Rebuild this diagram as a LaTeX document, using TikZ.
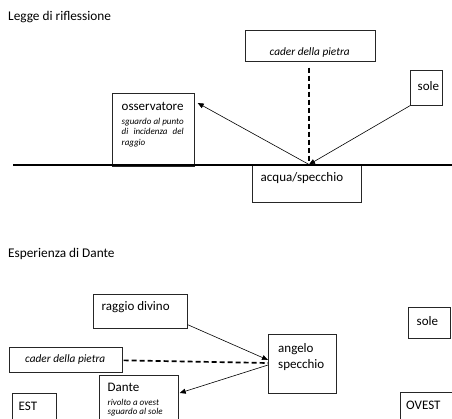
\documentclass[tikz,border=0pt]{standalone}
\usepackage{fontspec}
\setmainfont{Carlito}
\usetikzlibrary{arrows.meta,calc}
\begin{document}
\begin{tikzpicture}[x=1pt,y=-1pt,
  box/.style={draw=black!85,line width=0.7pt,inner sep=0pt,anchor=north west},
  lbl/.style={anchor=base west,inner sep=0pt,font=\fontsize{13}{15}\selectfont},
  ttl/.style={anchor=base west,inner sep=0pt,font=\fontsize{13.3}{15}\selectfont},
  ital/.style={anchor=base west,inner sep=0pt,font=\fontsize{11.3}{13}\selectfont\itshape},
  small/.style={anchor=base west,inner sep=0pt,font=\fontsize{9}{10}\selectfont\itshape},
  arr/.style={line width=0.6pt,-{Triangle[length=6pt,width=5pt]}},
  dsh/.style={line width=1.7pt,dash pattern=on 5pt off 3pt}]
\clip (0,0) rectangle (452,419);
\fill[white] (0,0) rectangle (452,419);
% ---------- top
\node[ttl] (t1) at (8,20.5) {Legge di riflessione};
\node[box,minimum width=130pt,minimum height=31pt] (cad1) at (245,30) {};
\node[ital] (cad1t) at (269.5,55.5) {cader della pietra};
\node[box,minimum width=32pt,minimum height=35pt] (sole1) at (410,70) {};
\node[lbl] (sole1t) at (417.5,90.5) {sole};
\node[box,minimum width=82pt,minimum height=73pt] (obs) at (112,93) {};
\node[lbl] (obst) at (121.5,111) {osservatore};
\node[small] (obs1) at (121.5,124.3) {\makebox[62pt][s]{sguardo al punto}};
\node[small] (obs2) at (121.5,135) {\makebox[62pt][s]{di incidenza del}};
\node[small] (obs3) at (121.5,145.3) {raggio};
\node[box,minimum width=109pt,minimum height=37pt] (acq) at (252,165) {};
\node[lbl] (acqt) at (260.5,182) {acqua/specchio};
\coordinate (P) at (309,164.5);
\coordinate (L1) at (13,165);
\coordinate (L2) at (452,165);
\draw[line width=1.2pt] (L1) -- (L2);
\draw[dsh] ($(cad1.south -| P)+(0,6)$) -- (P);
\draw[arr] (sole1.south west) -- (P);
\draw[arr] (P) -- ($(obs.north east)+(3,10)$);
% ---------- bottom
\node[ttl] (t2) at (8,258) {Esperienza di Dante};
\node[box,minimum width=94pt,minimum height=34pt] (rag) at (93,294) {};
\node[lbl] (ragt) at (101.5,310.5) {raggio divino};
\node[box,minimum width=42pt,minimum height=31pt] (sole2) at (408,307) {};
\node[lbl] (sole2t) at (416.5,325) {sole};
\node[box,minimum width=68pt,minimum height=59pt] (ang) at (268,334) {};
\node[lbl] (angt1) at (278,352) {angelo};
\node[lbl] (angt2) at (278,368) {specchio};
\node[box,minimum width=113pt,minimum height=25pt] (cad2) at (9,347) {};
\node[ital] (cad2t) at (25,362) {cader della pietra};
\node[box,minimum width=79pt,minimum height=60pt] (dan) at (99,375) {};
\node[lbl] (dant) at (107.5,391.5) {Dante};
\node[small] (dan1) at (107.5,405) {rivolto a ovest};
\node[small] (dan2) at (107.5,414.3) {sguardo al sole};
\node[box,minimum width=44pt,minimum height=40pt] (est) at (12,393) {};
\node[lbl] (estt) at (18.5,410) {EST};
\node[box,minimum width=52pt,minimum height=40pt] (ove) at (400,392) {};
\node[lbl] (ovet) at (406,409) {OVEST};
\draw[arr] ($(rag.south east)+(0,-4)$) -- ($(ang.north west)+(0,26)$);
\draw[dsh] ($(cad2.east)+(1,0.5)$) -- ($(ang.north west)+(0,29)$);
\draw[arr] ($(ang.north west)+(0,31)$) -- ($(dan.north east)+(1,18)$);
\end{tikzpicture}
\end{document}
